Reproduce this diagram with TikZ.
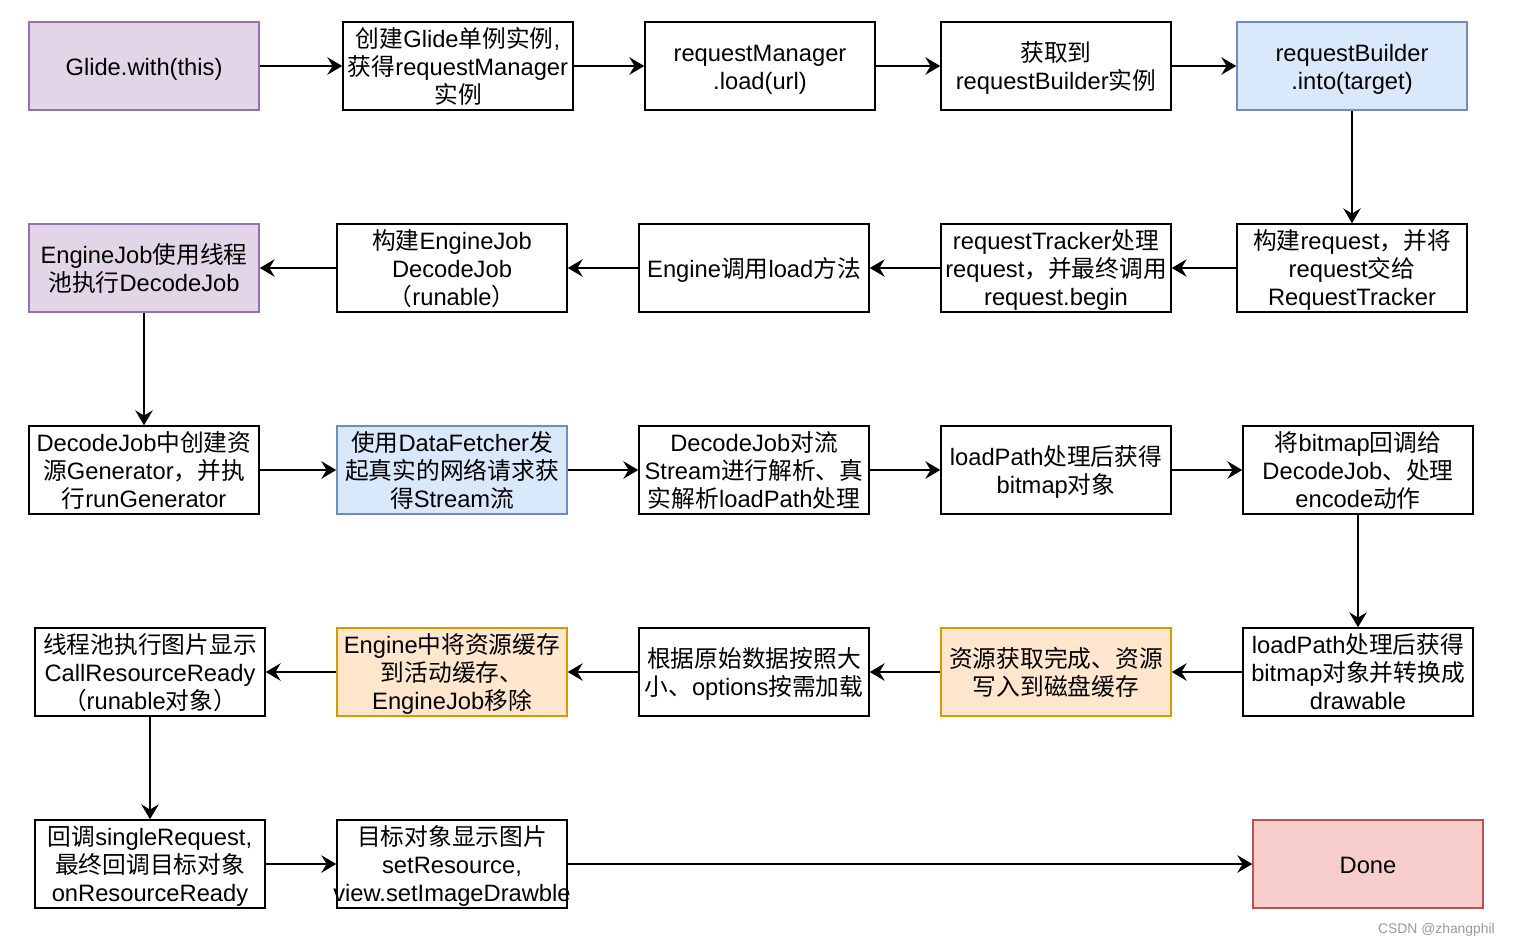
\documentclass[tikz,border=0pt]{standalone}
\usepackage{fontspec}
\setmainfont{Liberation Sans}
\newfontfamily\latinfont{Liberation Sans}
\newfontfamily\cjkfont{Noto Sans CJK SC}
% switch to the CJK font for every run of Chinese characters
\XeTeXinterchartokenstate=1
\newXeTeXintercharclass\cjkclass
\newcount\cjkcode
\cjkcode="4E00
\loop
  \XeTeXcharclass\cjkcode=\cjkclass
  \advance\cjkcode by 1
\ifnum\cjkcode<"A000 \repeat
\XeTeXcharclass"3001=\cjkclass
\XeTeXcharclass"FF08=\cjkclass
\XeTeXcharclass"FF09=\cjkclass
\XeTeXcharclass"FF0C=\cjkclass
\XeTeXinterchartoks 0 \cjkclass = {\cjkfont}
\XeTeXinterchartoks 4095 \cjkclass = {\cjkfont}
\XeTeXinterchartoks \cjkclass 0 = {\latinfont}
\XeTeXinterchartoks \cjkclass 4095 = {\latinfont}
\usepackage{xcolor}
\usepackage{tikz}
\usetikzlibrary{arrows.meta}

\definecolor{purplefill}{HTML}{E1D5E7}
\definecolor{purpleline}{HTML}{9673A6}
\definecolor{bluefill}{HTML}{DAE8FC}
\definecolor{blueline}{HTML}{6C8EBF}
\definecolor{orangefill}{HTML}{FFE6CC}
\definecolor{orangeline}{HTML}{D79B00}
\definecolor{redfill}{HTML}{F8CECC}
\definecolor{redline}{HTML}{B85450}

\begin{document}
\begin{tikzpicture}[x=0.02cm, y=-0.02cm,
  box/.style={draw, line width=0.9pt, minimum width=4.6cm, minimum height=1.76cm,
    text width=4.6cm, inner xsep=0pt, inner ysep=0pt, align=center,
    font=\latinfont\fontsize{13.5}{15.9}\selectfont,
    execute at begin node={\rule{0pt}{13.8pt}}, execute at end node={\rule[-3pt]{0pt}{3pt}}},
  purplebox/.style={fill=purplefill, draw=purpleline},
  bluebox/.style={fill=bluefill, draw=blueline},
  orangebox/.style={fill=orangefill, draw=orangeline},
  redbox/.style={fill=redfill, draw=redline},
  arr/.style={line width=0.85pt, -{Stealth[length=8.5pt, width=10pt, inset=3pt]}}]
\useasboundingbox (0,0) rectangle (1514,947);

% Row 1: building the request
\node[box, purplebox] (glide) at (144,66) {Glide.with(this)};
\node[box] (rm) at (458,66) {创建Glide单例实例,\\获得requestManager\\实例};
\node[box] (load) at (760,66) {requestManager\\.load(url)};
\node[box] (builder) at (1056,66) {获取到\\requestBuilder实例};
\node[box, bluebox] (into) at (1352,66) {requestBuilder\\.into(target)};

% Row 2: request tracking and engine
\node[box] (reqbuild) at (1352,268) {构建request，并将\\request交给\\RequestTracker};
\node[box] (tracker) at (1056,268) {requestTracker处理\\request，并最终调用\\request.begin};
\node[box] (engine) at (754,268) {Engine调用load方法};
\node[box] (enginejob) at (452,268) {构建EngineJob\\DecodeJob\\（runable）};
\node[box, purplebox] (pool) at (144,268) {EngineJob使用线程\\池执行DecodeJob};

% Row 3: fetching and decoding
\node[box] (generator) at (144,470) {DecodeJob中创建资\\源Generator，并执\\行runGenerator};
\node[box, bluebox] (fetcher) at (452,470) {使用DataFetcher发\\起真实的网络请求获\\得Stream流};
\node[box] (parse) at (754,470) {DecodeJob对流\\Stream进行解析、真\\实解析loadPath处理};
\node[box] (bitmap) at (1056,470) {loadPath处理后获得\\bitmap对象};
\node[box] (encode) at (1358,470) {将bitmap回调给\\DecodeJob、处理\\encode动作};

% Row 4: caching
\node[box] (drawable) at (1358,672) {loadPath处理后获得\\bitmap对象并转换成\\drawable};
\node[box, orangebox] (diskcache) at (1056,672) {资源获取完成、资源\\写入到磁盘缓存};
\node[box] (sample) at (754,672) {根据原始数据按照大\\小、options按需加载};
\node[box, orangebox] (activecache) at (452,672) {Engine中将资源缓存\\到活动缓存、\\EngineJob移除};
\node[box] (callready) at (150,672) {线程池执行图片显示\\CallResourceReady\\（runable对象）};

% Row 5: display
\node[box] (callback) at (150,864) {回调singleRequest,\\最终回调目标对象\\onResourceReady};
\node[box] (display) at (452,864) {目标对象显示图片\\setResource,\\\makebox[4.4cm]{view.setImageDrawble}};
\node[box, redbox] (done) at (1368,864) {Done};

\node[anchor=east, text=black!40, font=\latinfont\fontsize{7.9}{9}\selectfont] (mark) at (1501,930) {CSDN @zhangphil};

% Connectors
\draw[arr] (glide) -- (rm);
\draw[arr] (rm) -- (load);
\draw[arr] (load) -- (builder);
\draw[arr] (builder) -- (into);
\draw[arr] (into) -- (reqbuild);
\draw[arr] (reqbuild) -- (tracker);
\draw[arr] (tracker) -- (engine);
\draw[arr] (engine) -- (enginejob);
\draw[arr] (enginejob) -- (pool);
\draw[arr] (pool) -- (generator);
\draw[arr] (generator) -- (fetcher);
\draw[arr] (fetcher) -- (parse);
\draw[arr] (parse) -- (bitmap);
\draw[arr] (bitmap) -- (encode);
\draw[arr] (encode) -- (drawable);
\draw[arr] (drawable) -- (diskcache);
\draw[arr] (diskcache) -- (sample);
\draw[arr] (sample) -- (activecache);
\draw[arr] (activecache) -- (callready);
\draw[arr] (callready) -- (callback);
\draw[arr] (callback) -- (display);
\draw[arr] (display) -- (done);
\end{tikzpicture}
\end{document}
